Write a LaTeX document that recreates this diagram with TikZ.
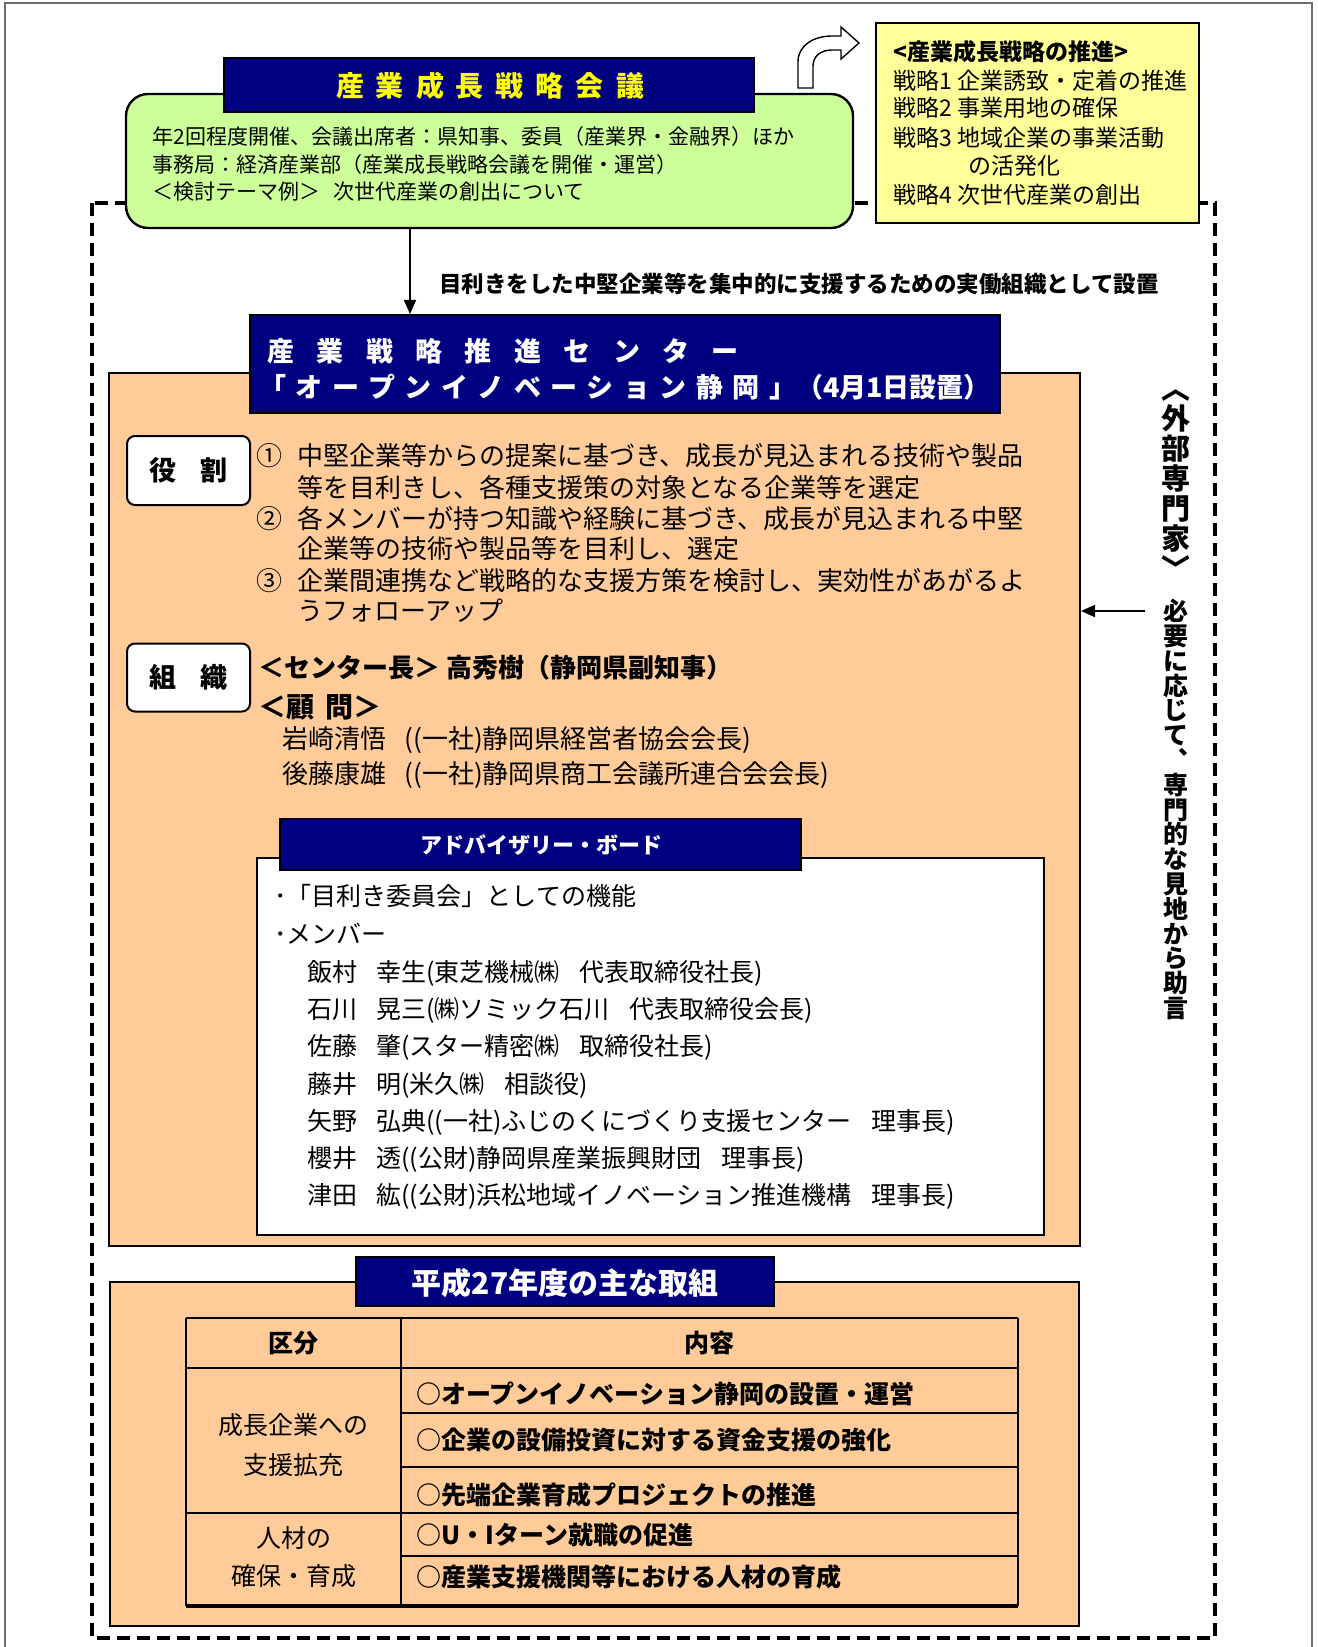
\documentclass[tikz,border=0pt]{standalone}
\usepackage{fontspec}
\setmainfont{Noto Sans CJK JP}
\usetikzlibrary{arrows.meta,calc}
\definecolor{navyc}{RGB}{0,0,128}
\definecolor{greenc}{RGB}{204,255,153}
\definecolor{yellowc}{RGB}{255,255,153}
\definecolor{peachc}{RGB}{255,204,153}
\definecolor{framec}{RGB}{110,110,110}
\definecolor{titleyellow}{RGB}{255,255,0}
\makeatletter
\newcommand\spreadtext[2]{\def\sp@sep{}\@tfor\sp@c:=#2\do{\sp@sep\sp@c\def\sp@sep{\hspace*{#1}}}}
\makeatother
\newcommand\fsz[1]{\fontsize{#1}{#1}\selectfont}
\begin{document}
\begin{tikzpicture}[x=0.5pt,y=-0.5pt,
  txt/.style={inner sep=0pt,anchor=base west},
  ctxt/.style={inner sep=0pt,anchor=base},
  boxline/.style={draw=black,line width=1pt},
  navybox/.style={draw=black,fill=navyc,line width=1pt},
  conn/.style={line width=0.8pt,-{Triangle[length=7pt,width=6pt]}},
  tbl/.style={line width=1pt},
  vstack/.style={inner sep=0pt,align=center}]
\useasboundingbox (0,0) rectangle (1317,1647);
\fill[white] (0,0) rectangle (1317,1647);
% outer frame
\draw[framec,line width=1pt] (5,1647) -- (5,3) -- (1312,3) -- (1312,1647);
% dashed frame
\draw[line width=2pt,dash pattern=on 6.5pt off 3.5pt] (92,203) rectangle (1215,1638);
% main peach box
\node[boxline,fill=peachc,minimum width=485.5pt,minimum height=436.5pt,inner sep=0pt] (peach) at (594.5,809.5) {};
% center title box
\node[navybox,minimum width=375pt,minimum height=49pt,inner sep=0pt] (ctr) at (625,364) {};
% green box
\node[boxline,line width=1.2pt,fill=greenc,rounded corners=11pt,minimum width=363.5pt,minimum height=67pt,inner sep=0pt] (green) at (489.5,161) {};
% navy title on green
\draw[navybox] (224,58) rectangle (754,112);
% yellow box
\draw[boxline,fill=yellowc] (876,23) rectangle (1199,223);
% curved arrow icon
\draw[line width=0.7pt,fill=white,line join=miter] (798,88) -- (798,62) .. controls (798,45) and (814,36) .. (832,36) -- (841,36) -- (841,27) -- (859,43) -- (841,59) -- (841,50) -- (832,50) .. controls (821,50) and (813,56) .. (813,66) -- (813,88) -- cycle;

% title text
\node[ctxt,font=\fsz{14}\bfseries,text=titleyellow] (ttl) at (490,97) {\spreadtext{6pt}{産業成長戦略会議}};
% green text
\node[txt,font=\fsz{10.5}] (g1) at (152,145) {年2回程度開催、会議出席者：県知事、委員（産業界・金融界）ほか};
\node[txt,font=\fsz{10.5}] (g2) at (152,173) {事務局：経済産業部（産業成長戦略会議を開催・運営）};
\node[txt,font=\fsz{10.5}] (g3) at (152,200) {＜検討テーマ例＞\hspace{0.6em}次世代産業の創出について};
% yellow text
\node[txt,font=\fsz{11.5}\bfseries] (y1) at (893,61) {<産業成長戦略の推進>};
\node[txt,font=\fsz{11.5}] (y2) at (893,90) {戦略1 企業誘致・定着の推進};
\node[txt,font=\fsz{11.5}] (y3) at (893,117) {戦略2 事業用地の確保};
\node[txt,font=\fsz{11.5}] (y4) at (893,147) {戦略3 地域企業の事業活動};
\node[txt,font=\fsz{11.5}] (y5) at (968,175) {の活発化};
\node[txt,font=\fsz{11.5}] (y6) at (893,204) {戦略4 次世代産業の創出};

% arrow down with label
\coordinate (ax) at (410,0);
\draw[conn] (green.south -| ax) -- (ctr.north -| ax);
\node[txt,font=\fsz{11.25}\bfseries] (lab) at (439,293) {目利きをした中堅企業等を集中的に支援するための実働組織として設置};

% center title text
\node[txt,font=\fsz{13.5}\bfseries,text=white] (ct1) at (267,362) {\spreadtext{11.2pt}{産業戦略推進センター}};
\node[txt,font=\fsz{13.5}\bfseries,text=white] (ct2) at (259,397) {\spreadtext{4.7pt}{「オープンイノベーション静岡」}（4月1日設置）};

% role
\node[boxline,fill=white,rounded corners=4pt,minimum width=61.5pt,minimum height=34.5pt,inner sep=0pt,font=\fsz{13.5}\bfseries] (role) at (188.5,470.5) {役\hspace{0.9em}割};
\node[txt,font=\fsz{13}] (r1n) at (256,465) {①};
\node[txt,font=\fsz{13}] (r1a) at (297,465) {中堅企業等からの提案に基づき、成長が見込まれる技術や製品};
\node[txt,font=\fsz{13}] (r1b) at (297,497) {等を目利きし、各種支援策の対象となる企業等を選定};
\node[txt,font=\fsz{13}] (r2n) at (256,528) {②};
\node[txt,font=\fsz{13}] (r2a) at (297,528) {各メンバーが持つ知識や経験に基づき、成長が見込まれる中堅};
\node[txt,font=\fsz{13}] (r2b) at (297,558) {企業等の技術や製品等を目利し、選定};
\node[txt,font=\fsz{13}] (r3n) at (256,590) {③};
\node[txt,font=\fsz{13}] (r3a) at (297,590) {企業間連携など戦略的な支援方策を検討し、実効性があがるよ};
\node[txt,font=\fsz{13}] (r3b) at (297,620) {うフォローアップ};

% organisation
\node[boxline,fill=white,rounded corners=4pt,minimum width=61.5pt,minimum height=34pt,inner sep=0pt,font=\fsz{13.5}\bfseries] (org) at (188.5,677.5) {組\hspace{0.9em}織};
\node[txt,font=\fsz{13}\bfseries] (o1) at (258,677) {＜センター長＞ 高秀樹（静岡県副知事）};
\node[txt,font=\fsz{14}\bfseries] (o2) at (258,717) {＜顧\hspace{0.4em}問＞};
\node[txt,font=\fsz{13}] (o3) at (282,748) {岩崎清悟\hspace{0.7em}((一社)静岡県経営者協会会長)};
\node[txt,font=\fsz{13}] (o4) at (282,783) {後藤康雄\hspace{0.7em}((一社)静岡県商工会議所連合会会長)};

% advisory board
\draw[boxline,fill=white] (257,858) rectangle (1044,1235);
\draw[navybox] (280,819) rectangle (801,870);
\node[ctxt,font=\fsz{11}\bfseries,text=white] (adv) at (541,853) {アドバイザリー・ボード};
\node[txt,font=\fsz{12.5}] (a1) at (274,905) {･「目利き委員会」としての機能};
\node[txt,font=\fsz{12.5}] (a2) at (274,943) {･メンバー};
\node[txt,font=\fsz{12.5}] (m1a) at (307,981) {飯村};
\node[txt,font=\fsz{12.5}] (m1b) at (376,981) {幸生(東芝機械㈱\hspace{0.8em}代表取締役社長)};
\node[txt,font=\fsz{12.5}] (m2a) at (307,1018) {石川};
\node[txt,font=\fsz{12.5}] (m2b) at (376,1018) {晃三(㈱ソミック石川\hspace{0.8em}代表取締役会長)};
\node[txt,font=\fsz{12.5}] (m3a) at (307,1055) {佐藤};
\node[txt,font=\fsz{12.5}] (m3b) at (376,1055) {肇(スター精密㈱\hspace{0.8em}取締役社長)};
\node[txt,font=\fsz{12.5}] (m4a) at (307,1093) {藤井};
\node[txt,font=\fsz{12.5}] (m4b) at (376,1093) {明(米久㈱\hspace{0.8em}相談役)};
\node[txt,font=\fsz{12.5}] (m5a) at (307,1130) {矢野};
\node[txt,font=\fsz{12.5}] (m5b) at (376,1130) {弘典((一社)ふじのくにづくり支援センター\hspace{0.8em}理事長)};
\node[txt,font=\fsz{12.5}] (m6a) at (307,1167) {櫻井};
\node[txt,font=\fsz{12.5}] (m6b) at (376,1167) {透((公財)静岡県産業振興財団\hspace{0.8em}理事長)};
\node[txt,font=\fsz{12.5}] (m7a) at (307,1204) {津田};
\node[txt,font=\fsz{12.5}] (m7b) at (376,1204) {紘((公財)浜松地域イノベーション推進機構\hspace{0.8em}理事長)};

% external experts
\coordinate (exp) at (1145,611);
\draw[conn] (exp) -- (peach.east |- exp);
\node[vstack,font={\fontsize{14.5}{15}\selectfont\lineskiplimit=-20pt\bfseries}] (vb) at (1176,485) {︿\\外\\部\\専\\門\\家\\﹀};
\node[vstack,font={\fontsize{12.5}{12.4}\selectfont\lineskiplimit=-20pt\bfseries}] (vr) at (1176,809.5) {必\\要\\に\\応\\じ\\て\\︑\\専\\門\\的\\な\\見\\地\\か\\ら\\助\\言};

% bottom section
\draw[boxline,fill=peachc] (110,1282) rectangle (1079,1626);
\draw[navybox] (356,1257) rectangle (774,1306);
\node[ctxt,font=\fsz{15}\bfseries,text=white] (btl) at (565,1294) {平成27年度の主な取組};
% table
\draw[tbl] (186,1318) -- (1018,1318);
\draw[tbl] (186,1368) -- (1018,1368);
\draw[tbl] (401,1413) -- (1018,1413);
\draw[tbl] (401,1467) -- (1018,1467);
\draw[tbl] (186,1513) -- (1018,1513);
\draw[tbl] (401,1556) -- (1018,1556);
\draw[line width=1.6pt] (186,1606) -- (1018,1606);
\draw[tbl] (186,1318) -- (186,1606);
\draw[tbl] (401,1318) -- (401,1606);
\draw[tbl] (1018,1318) -- (1018,1606);
\node[ctxt,font=\fsz{12.5}\bfseries] (h1) at (293.5,1352) {区分};
\node[ctxt,font=\fsz{12.5}\bfseries] (h2) at (709.5,1352) {内容};
\node[ctxt,font=\fsz{12.5}] (l1) at (293.5,1434) {成長企業への};
\node[ctxt,font=\fsz{12.5}] (l2) at (293.5,1474) {支援拡充};
\node[ctxt,font=\fsz{12.5}] (l3) at (293.5,1547) {人材の};
\node[ctxt,font=\fsz{12.5}] (l4) at (293.5,1585) {確保・育成};
\node[txt,font=\fsz{12.5}\bfseries] (c1) at (416,1403) {○オープンイノベーション静岡の設置・運営};
\node[txt,font=\fsz{12.5}\bfseries] (c2) at (416,1449) {○企業の設備投資に対する資金支援の強化};
\node[txt,font=\fsz{12.5}\bfseries] (c3) at (416,1504) {○先端企業育成プロジェクトの推進};
\node[txt,font=\fsz{12.5}\bfseries] (c4) at (416,1544) {○U・Iターン就職の促進};
\node[txt,font=\fsz{12.5}\bfseries] (c5) at (416,1586) {○産業支援機関等における人材の育成};
\end{tikzpicture}
\end{document}
